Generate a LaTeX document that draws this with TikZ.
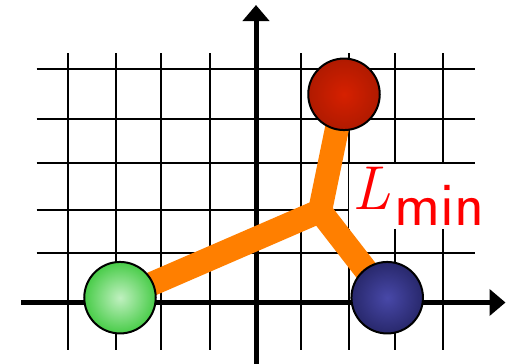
\documentclass[tikz,border=0pt]{standalone}
\usetikzlibrary{arrows.meta}
\pgfdeclarelayer{gridlayer}
\pgfdeclarelayer{linklayer}
\pgfsetlayers{gridlayer,linklayer,main}
\definecolor{linkorange}{RGB}{255,127,0}
\definecolor{gin}{RGB}{192,240,192}
\definecolor{gout}{RGB}{72,204,72}
\definecolor{rin}{RGB}{214,32,0}
\definecolor{rout}{RGB}{176,26,0}
\definecolor{bin}{RGB}{72,72,168}
\definecolor{bout}{RGB}{40,40,108}
\tikzset{
  gridline/.style={line width=2pt,black},
  axisline/.style={line width=5pt,black,-{Triangle[length=16pt,width=26pt]}},
  ballnode/.style={circle,draw=black,line width=2pt,minimum size=71.5pt,inner sep=0pt},
  linkline/.style={line width=24pt,linkorange,line cap=round,line join=round},
  labelnode/.style={fill=white,text=red,inner sep=3pt,anchor=base west,font=\fontsize{62}{62}\selectfont}
}
\begin{document}
\begin{tikzpicture}[x=1pt,y=-1pt]
\useasboundingbox (0,0) rectangle (514,364);
\begin{pgfonlayer}{gridlayer}
\foreach \gx in {67.7,116,161.3,209.7,301.3,349.3,395,443.3}
  \draw[gridline] (\gx,53.3) -- (\gx,350);
\foreach \gy in {68.7,119.3,162.7,210,252.7}
  \draw[gridline] (36.7,\gy) -- (475,\gy);
\coordinate (xs) at (21,302.5);
\coordinate (xe) at (505.5,302.5);
\coordinate (ys) at (256,364);
\coordinate (ye) at (256,5);
\draw[axisline] (xs) -- (xe);
\draw[axisline] (ys) -- (ye);
\end{pgfonlayer}
\node[ballnode,inner color=gin,outer color=gout] (g) at (120,297.7) {};
\node[ballnode,inner color=rin,outer color=rout] (r) at (344,94.3) {};
\node[ballnode,inner color=bin,outer color=bout] (b) at (387.2,297.7) {};
\coordinate (j) at (320,211);
\begin{pgfonlayer}{linklayer}
\draw[linkline] (g.center) -- (j) -- (r.center) (j) -- (b.center);
\end{pgfonlayer}
\node[labelnode] (lmin) at (349,209) {{\itshape L}\hspace{4pt}\raisebox{-16.5pt}{\sffamily min}};
\end{tikzpicture}
\end{document}
